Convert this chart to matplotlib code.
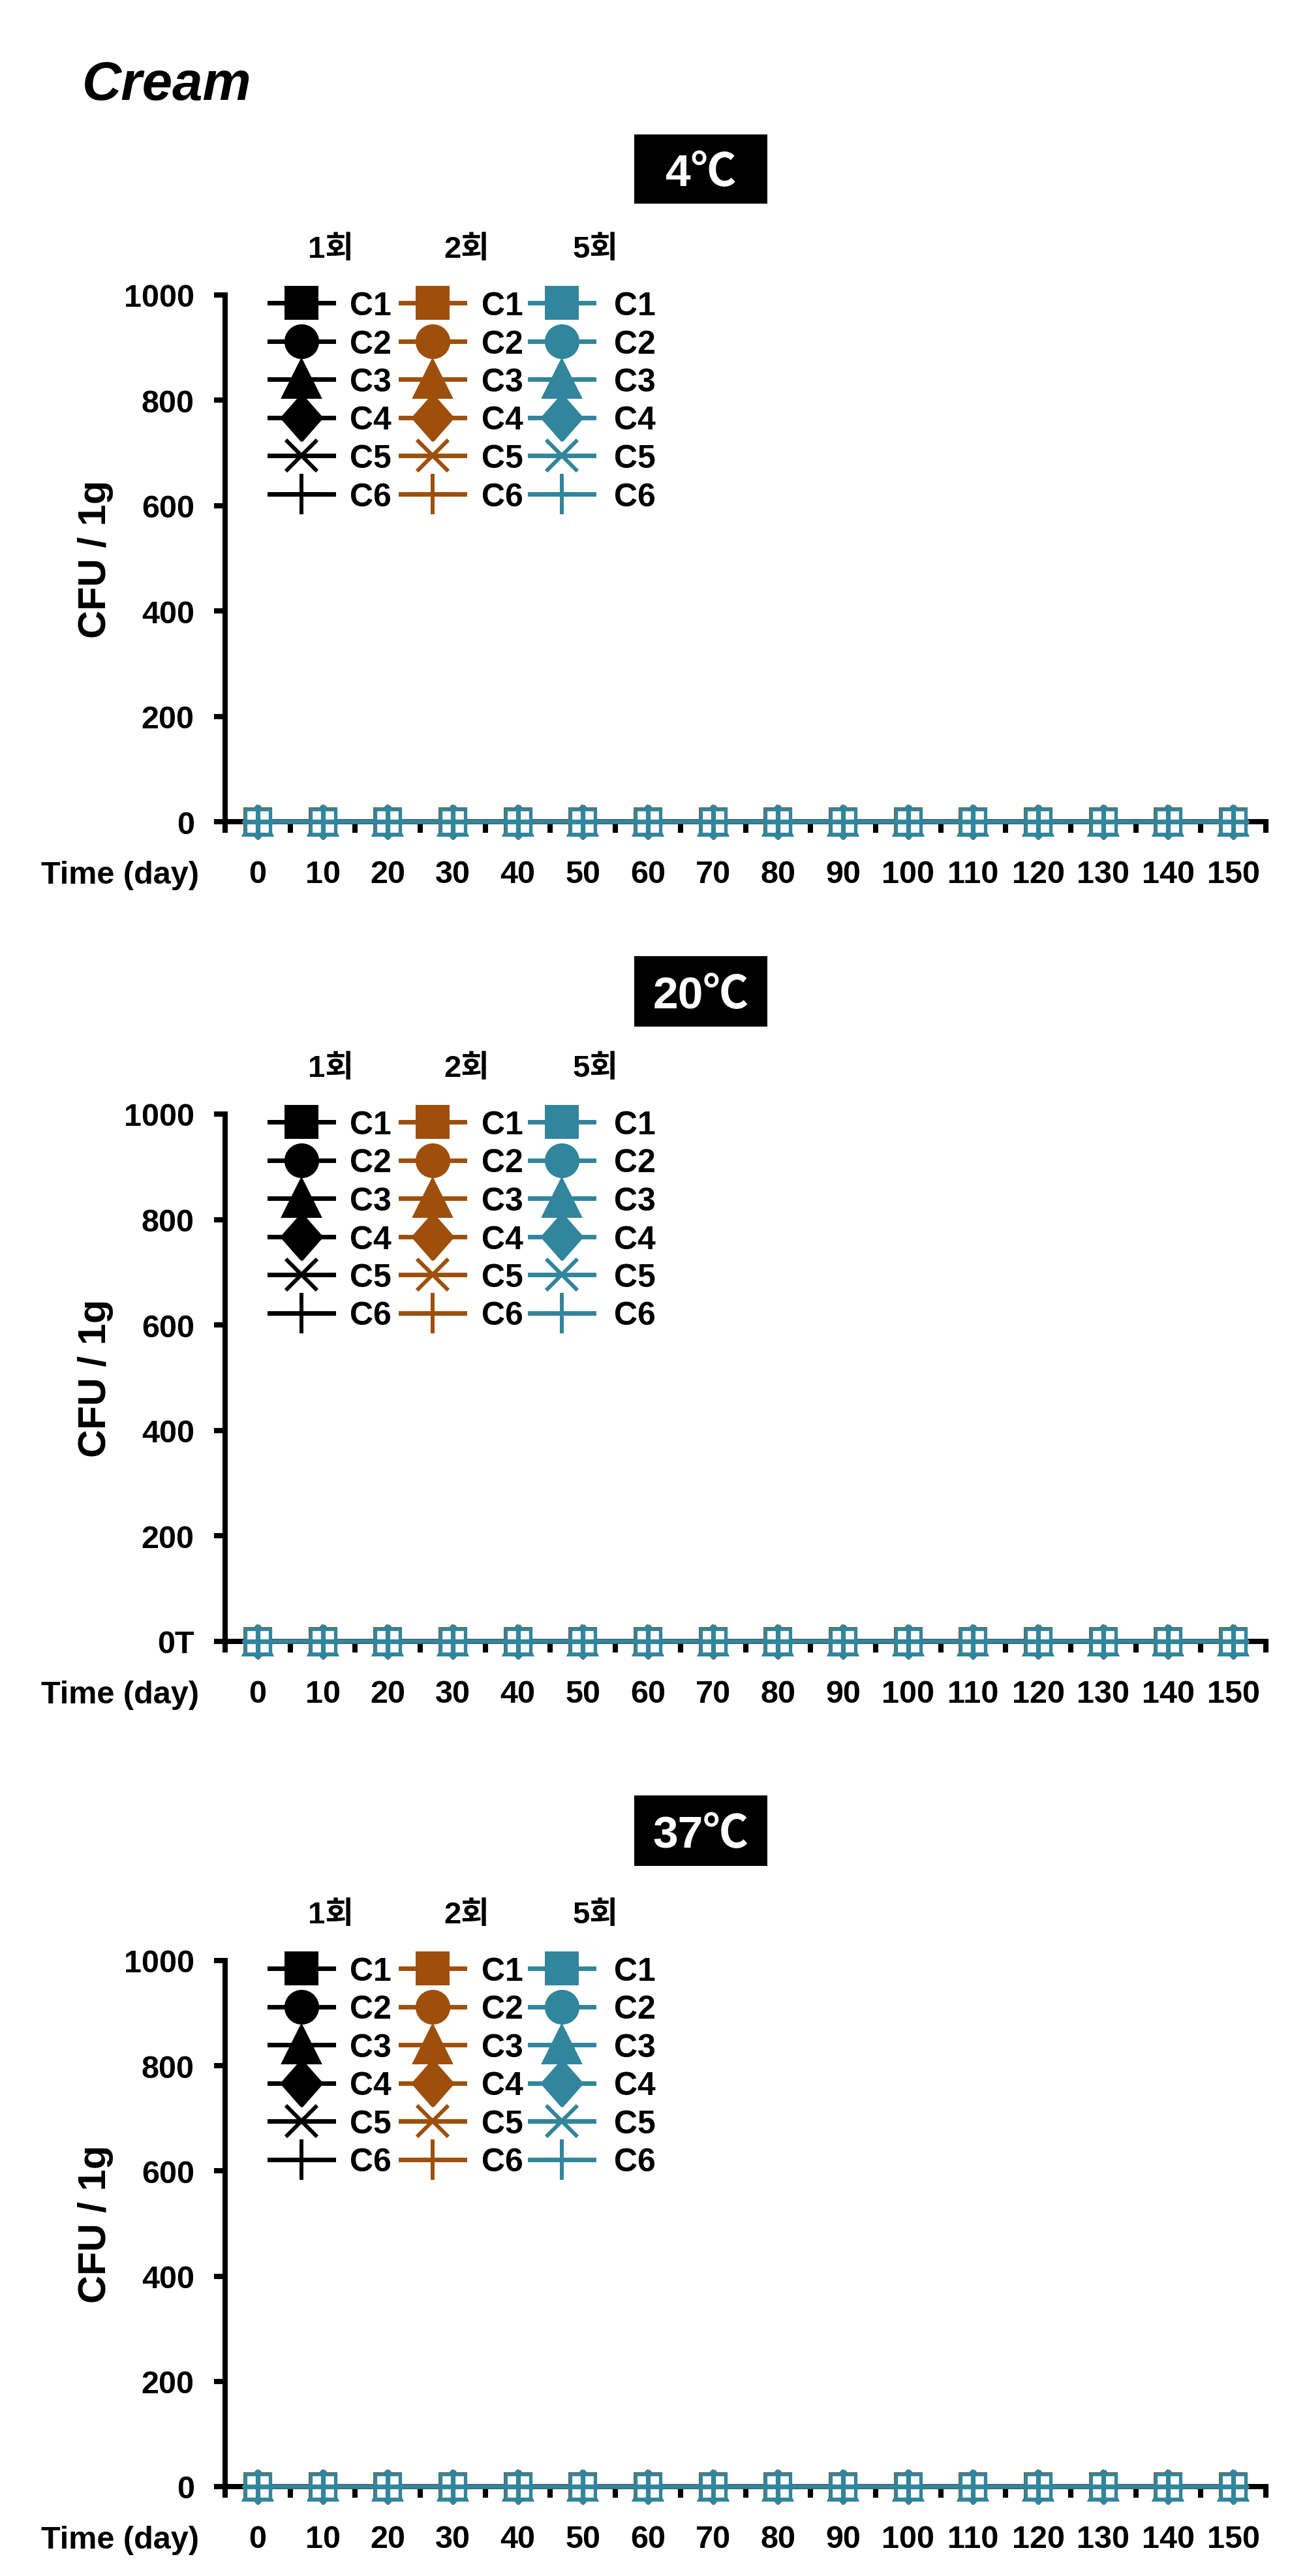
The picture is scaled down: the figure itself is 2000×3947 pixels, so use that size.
import matplotlib
matplotlib.use('Agg')
import matplotlib.pyplot as plt
from matplotlib.lines import Line2D
from matplotlib.patches import Rectangle
import numpy as np

plt.rcParams['font.family'] = ['Liberation Sans', 'Noto Sans CJK KR', 'DejaVu Sans']
plt.rcParams['font.weight'] = 'bold'

# ---------------- data ----------------
days = [0, 10, 20, 30, 40, 50, 60, 70, 80, 90, 100, 110, 120, 130, 140, 150]
groups = ['1회', '2회', '5회']
series_names = ['C1', 'C2', 'C3', 'C4', 'C5', 'C6']
temps = ['4℃', '20℃', '37℃']
# every series reads 0 CFU / 1g at every time point, in every panel
counts_4c = [0, 0, 0, 0, 0, 0, 0, 0, 0, 0, 0, 0, 0, 0, 0, 0]
counts_20c = [0, 0, 0, 0, 0, 0, 0, 0, 0, 0, 0, 0, 0, 0, 0, 0]
counts_37c = [0, 0, 0, 0, 0, 0, 0, 0, 0, 0, 0, 0, 0, 0, 0, 0]
yticks = [0, 200, 400, 600, 800, 1000]
ytick_labels_4c = ['0', '200', '400', '600', '800', '1000']
ytick_labels_20c = ['0T', '200', '400', '600', '800', '1000']
ytick_labels_37c = ['0', '200', '400', '600', '800', '1000']

panel_counts = [counts_4c, counts_20c, counts_37c]
panel_ylabels = [ytick_labels_4c, ytick_labels_20c, ytick_labels_37c]

# ---------------- style ----------------
W, H, DPI = 2000, 3948, 100
group_colors = ['#000000', '#9E4F0B', '#31859C']
diamond = [(0, 1), (0.88, 0), (0, -1), (-0.88, 0), (0, 1)]
markers = ['s', 'o', '^', diamond, 'x', '+']
leg_ms = [33, 34, 39, 48, 35, 44]
plot_ms = [27, 27, 29, 35, 27, 27]

fig = plt.figure(figsize=(W / DPI, H / DPI), dpi=DPI)


def fx(x):
    return x / W


def fy(y):
    return 1 - y / H


tops = [453, 1708, 3005]
bottoms = [1260, 2516, 3811]
box_tops = [207, 1466, 2752]
box_bottoms = [313, 1574, 2860]
AX_L, AX_R = 345, 1940
SPINE = 5.8

fig.text(fx(126), fy(153), 'Cream', fontsize=60, fontweight='bold',
         style='italic', ha='left', va='baseline')

x_pos = np.arange(len(days))

for p in range(3):
    top, bot = tops[p], bottoms[p]
    ax = fig.add_axes([fx(AX_L), fy(bot), (AX_R - AX_L) / W, (bot - top) / H])
    ax.set_xlim(-0.5, len(days) - 0.5)
    ax.set_ylim(0, 1000)
    for side in ['top', 'right']:
        ax.spines[side].set_visible(False)
    for side in ['left', 'bottom']:
        ax.spines[side].set_linewidth(SPINE)
        ax.spines[side].set_zorder(1)
    ax.set_facecolor('none')

    # category boundaries as major ticks, labels on minor ticks
    ax.set_xticks(np.arange(-0.5, len(days), 1.0))
    ax.tick_params(axis='x', which='major', length=12, width=SPINE,
                   direction='out', labelbottom=False)
    ax.set_xticks(x_pos, minor=True)
    ax.set_xticklabels([str(d) for d in days], minor=True)
    ax.tick_params(axis='x', which='minor', length=0, pad=42, labelsize=35)
    ax.set_yticks(yticks)
    ax.set_yticklabels(panel_ylabels[p])
    ax.tick_params(axis='y', length=12, width=SPINE, direction='out',
                   pad=22, labelsize=35)
    for lbl in ax.get_xticklabels(minor=True) + ax.get_yticklabels():
        lbl.set_fontweight('bold')

    # data series
    z = 3
    for g, col in enumerate(group_colors):
        for s in range(len(series_names)):
            kw = dict(color=col, lw=4.5, marker=markers[s], ms=plot_ms[s],
                      mfc=col, mec=col, mew=4.3, clip_on=False, zorder=z)
            if g == 2 and s == 0:
                kw.update(mfc='white', mew=3.8, zorder=40)
            if g == 2 and s == 5:
                kw.update(mew=5.2, zorder=41)
            ax.plot(x_pos, panel_counts[p], **kw)
            z += 0.1

    # y label and x caption
    fig.text(fx(147), fy((top + bot) / 2), 'CFU / 1g', rotation=90,
             ha='center', va='center', fontsize=43, fontweight='bold')
    fig.text(fx(63), fy(bot + 59), 'Time (day)', ha='left', va='top',
             fontsize=35, fontweight='bold')

    # temperature box
    bt, bb = box_tops[p], box_bottoms[p]
    fig.add_artist(Rectangle((fx(972), fy(bb)), (1176 - 972) / W, (bb - bt) / H,
                             transform=fig.transFigure, facecolor='black',
                             edgecolor='none'))
    fig.text(fx(1074), fy((bt + bb) / 2 + 25), temps[p], color='white',
             ha='center', va='baseline', fontsize=50, fontweight='bold')

    # legend
    head_x = [507, 715, 912]
    handle_x0 = [413, 614, 812]
    text_x = [536, 738, 941]
    for g, col in enumerate(group_colors):
        fig.text(fx(head_x[g]), fy(top - 70), groups[g], ha='center',
                 va='center', fontsize=34, fontweight='bold')
        for s, name in enumerate(series_names):
            yy = top + 12 + 58.5 * s
            x0 = handle_x0[g]
            ln = Line2D([fx(x0), fx(x0 + 49), fx(x0 + 98)], [fy(yy)] * 3,
                        transform=fig.transFigure, color=col, lw=5,
                        marker=markers[s], markevery=[1], ms=leg_ms[s],
                        mfc=col, mec=col, mew=4.3)
            fig.add_artist(ln)
            fig.text(fx(text_x[g]), fy(yy + 18), name, ha='left',
                     va='baseline', fontsize=36, fontweight='bold')

fig.savefig('out.png', dpi=DPI, facecolor='white')
